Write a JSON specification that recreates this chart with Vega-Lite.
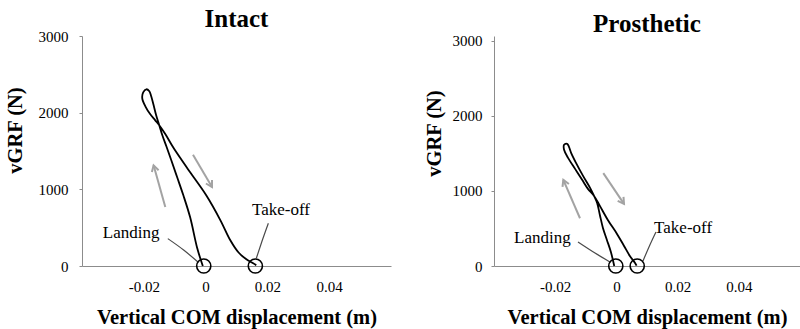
{
  "$schema": "https://vega.github.io/schema/vega-lite/v6.json",
  "autosize": {"type": "none"},
  "padding": {"left": 82, "top": 36, "right": 718, "bottom": 293},
  "spacing": 103,
  "bounds": "flush",
  "config": {
    "view": {"stroke": null},
    "font": "Times New Roman, Liberation Serif, serif",
    "title": {"font": "Times New Roman, Liberation Serif, serif", "fontSize": 25, "fontWeight": "bold", "color": "#000", "offset": -3, "anchor": "middle"},
    "axis": {
      "grid": false,
      "domainColor": "#8c8c8c",
      "domainWidth": 1,
      "tickColor": "#8c8c8c",
      "labelFont": "Times New Roman, Liberation Serif, serif",
      "labelFontSize": 15,
      "labelColor": "#000",
      "titleFont": "Times New Roman, Liberation Serif, serif",
      "titleFontSize": 20.5,
      "titleFontWeight": "bold",
      "titleColor": "#000"
    },
    "axisX": {"ticks": false, "tickSize": 0, "labelPadding": 13, "titlePadding": 13, "labelFlush": false},
    "axisY": {"tickSize": 3, "labelPadding": 11, "titlePadding": 13}
  },
  "datasets": {
    "loop": [
      {"panel": "Intact", "i": 0, "x": -0.0009, "y": 0},
      {"panel": "Intact", "i": 1, "x": -0.0027, "y": 231},
      {"panel": "Intact", "i": 2, "x": -0.0050, "y": 635},
      {"panel": "Intact", "i": 3, "x": -0.0072, "y": 922},
      {"panel": "Intact", "i": 4, "x": -0.0092, "y": 1157},
      {"panel": "Intact", "i": 5, "x": -0.0111, "y": 1379},
      {"panel": "Intact", "i": 6, "x": -0.0127, "y": 1561},
      {"panel": "Intact", "i": 7, "x": -0.0140, "y": 1705},
      {"panel": "Intact", "i": 8, "x": -0.0150, "y": 1836},
      {"panel": "Intact", "i": 9, "x": -0.0160, "y": 1966},
      {"panel": "Intact", "i": 10, "x": -0.0169, "y": 2110},
      {"panel": "Intact", "i": 11, "x": -0.0176, "y": 2213},
      {"panel": "Intact", "i": 12, "x": -0.0182, "y": 2279},
      {"panel": "Intact", "i": 13, "x": -0.0192, "y": 2305},
      {"panel": "Intact", "i": 14, "x": -0.0202, "y": 2265},
      {"panel": "Intact", "i": 15, "x": -0.0205, "y": 2187},
      {"panel": "Intact", "i": 16, "x": -0.0195, "y": 2083},
      {"panel": "Intact", "i": 17, "x": -0.0179, "y": 1979},
      {"panel": "Intact", "i": 18, "x": -0.0163, "y": 1900},
      {"panel": "Intact", "i": 19, "x": -0.0150, "y": 1836},
      {"panel": "Intact", "i": 20, "x": -0.0130, "y": 1718},
      {"panel": "Intact", "i": 21, "x": -0.0105, "y": 1548},
      {"panel": "Intact", "i": 22, "x": -0.0078, "y": 1385},
      {"panel": "Intact", "i": 23, "x": -0.0050, "y": 1222},
      {"panel": "Intact", "i": 24, "x": 0.0002, "y": 922},
      {"panel": "Intact", "i": 25, "x": 0.0048, "y": 596},
      {"panel": "Intact", "i": 26, "x": 0.0080, "y": 335},
      {"panel": "Intact", "i": 27, "x": 0.0106, "y": 179},
      {"panel": "Intact", "i": 28, "x": 0.0132, "y": 87},
      {"panel": "Intact", "i": 29, "x": 0.0154, "y": 35},
      {"panel": "Intact", "i": 30, "x": 0.0164, "y": 9},
      {"panel": "Prosthetic", "i": 0, "x": -0.0007, "y": 0},
      {"panel": "Prosthetic", "i": 1, "x": -0.0018, "y": 187},
      {"panel": "Prosthetic", "i": 2, "x": -0.0031, "y": 347},
      {"panel": "Prosthetic", "i": 3, "x": -0.0044, "y": 507},
      {"panel": "Prosthetic", "i": 4, "x": -0.0054, "y": 680},
      {"panel": "Prosthetic", "i": 5, "x": -0.0063, "y": 840},
      {"panel": "Prosthetic", "i": 6, "x": -0.0073, "y": 933},
      {"panel": "Prosthetic", "i": 7, "x": -0.0086, "y": 1040},
      {"panel": "Prosthetic", "i": 8, "x": -0.0109, "y": 1200},
      {"panel": "Prosthetic", "i": 9, "x": -0.0132, "y": 1373},
      {"panel": "Prosthetic", "i": 10, "x": -0.0148, "y": 1507},
      {"panel": "Prosthetic", "i": 11, "x": -0.0155, "y": 1587},
      {"panel": "Prosthetic", "i": 12, "x": -0.0161, "y": 1627},
      {"panel": "Prosthetic", "i": 13, "x": -0.0171, "y": 1613},
      {"panel": "Prosthetic", "i": 14, "x": -0.0171, "y": 1547},
      {"panel": "Prosthetic", "i": 15, "x": -0.0158, "y": 1440},
      {"panel": "Prosthetic", "i": 16, "x": -0.0135, "y": 1293},
      {"panel": "Prosthetic", "i": 17, "x": -0.0112, "y": 1147},
      {"panel": "Prosthetic", "i": 18, "x": -0.0093, "y": 1027},
      {"panel": "Prosthetic", "i": 19, "x": -0.0073, "y": 933},
      {"panel": "Prosthetic", "i": 20, "x": -0.0054, "y": 800},
      {"panel": "Prosthetic", "i": 21, "x": -0.0028, "y": 613},
      {"panel": "Prosthetic", "i": 22, "x": 0.0002, "y": 427},
      {"panel": "Prosthetic", "i": 23, "x": 0.0025, "y": 267},
      {"panel": "Prosthetic", "i": 24, "x": 0.0044, "y": 133},
      {"panel": "Prosthetic", "i": 25, "x": 0.0061, "y": 40},
      {"panel": "Prosthetic", "i": 26, "x": 0.0066, "y": 5}
    ],
    "events": [
      {"panel": "Intact", "event": "Landing", "x": -0.0006, "y": 0},
      {"panel": "Intact", "event": "Take-off", "x": 0.0161, "y": 0},
      {"panel": "Prosthetic", "event": "Landing", "x": -0.0002, "y": 0},
      {"panel": "Prosthetic", "event": "Take-off", "x": 0.0068, "y": 0}
    ],
    "arrows": [
      {"panel": "Intact", "seg": "up-shaft", "i": 0, "x": -0.01304, "y": 770},
      {"panel": "Intact", "seg": "up-shaft", "i": 1, "x": -0.01683, "y": 1313},
      {"panel": "Intact", "seg": "up-head", "i": 0, "x": -0.01738, "y": 1225},
      {"panel": "Intact", "seg": "up-head", "i": 1, "x": -0.01683, "y": 1313},
      {"panel": "Intact", "seg": "up-head", "i": 2, "x": -0.01521, "y": 1250},
      {"panel": "Intact", "seg": "down-shaft", "i": 0, "x": -0.00408, "y": 1450},
      {"panel": "Intact", "seg": "down-shaft", "i": 1, "x": 0.00207, "y": 1030},
      {"panel": "Intact", "seg": "down-head", "i": 0, "x": 0.00207, "y": 1122},
      {"panel": "Intact", "seg": "down-head", "i": 1, "x": 0.00207, "y": 1030},
      {"panel": "Intact", "seg": "down-head", "i": 2, "x": 0.0001, "y": 1076},
      {"panel": "Prosthetic", "seg": "up-shaft", "i": 0, "x": -0.0119, "y": 636},
      {"panel": "Prosthetic", "seg": "up-shaft", "i": 1, "x": -0.01735, "y": 1147},
      {"panel": "Prosthetic", "seg": "up-head", "i": 0, "x": -0.01761, "y": 1054},
      {"panel": "Prosthetic", "seg": "up-head", "i": 1, "x": -0.01735, "y": 1147},
      {"panel": "Prosthetic", "seg": "up-head", "i": 2, "x": -0.01552, "y": 1091},
      {"panel": "Prosthetic", "seg": "down-shaft", "i": 0, "x": -0.00428, "y": 1236},
      {"panel": "Prosthetic", "seg": "down-shaft", "i": 1, "x": 0.00248, "y": 827},
      {"panel": "Prosthetic", "seg": "down-head", "i": 0, "x": 0.00232, "y": 920},
      {"panel": "Prosthetic", "seg": "down-head", "i": 1, "x": 0.00248, "y": 827},
      {"panel": "Prosthetic", "seg": "down-head", "i": 2, "x": 0.00042, "y": 868}
    ],
    "leaders": [
      {"panel": "Intact", "seg": "Landing", "i": 0, "x": -0.01223, "y": 357},
      {"panel": "Intact", "seg": "Landing", "i": 1, "x": -0.0070, "y": 205},
      {"panel": "Intact", "seg": "Landing", "i": 2, "x": -0.00236, "y": 48},
      {"panel": "Intact", "seg": "Take-off", "i": 0, "x": 0.0203, "y": 557},
      {"panel": "Intact", "seg": "Take-off", "i": 1, "x": 0.01835, "y": 335},
      {"panel": "Intact", "seg": "Take-off", "i": 2, "x": 0.01641, "y": 100},
      {"panel": "Prosthetic", "seg": "Landing", "i": 0, "x": -0.01255, "y": 320},
      {"panel": "Prosthetic", "seg": "Landing", "i": 1, "x": -0.00699, "y": 173},
      {"panel": "Prosthetic", "seg": "Landing", "i": 2, "x": -0.00209, "y": 53},
      {"panel": "Prosthetic", "seg": "Take-off", "i": 0, "x": 0.01294, "y": 453},
      {"panel": "Prosthetic", "seg": "Take-off", "i": 1, "x": 0.01065, "y": 253},
      {"panel": "Prosthetic", "seg": "Take-off", "i": 2, "x": 0.00869, "y": 67}
    ],
    "labels": [
      {"panel": "Intact", "label": "Landing", "x": -0.0241, "y": 361},
      {"panel": "Intact", "label": "Take-off", "x": 0.0244, "y": 661},
      {"panel": "Prosthetic", "label": "Landing", "x": -0.0242, "y": 311},
      {"panel": "Prosthetic", "label": "Take-off", "x": 0.0218, "y": 436}
    ]
  },
  "hconcat": [
    {
      "width": 309,
      "height": 230,
      "title": {"text": "Intact"},
      "encoding": {
        "x": {
          "field": "x", "type": "quantitative",
          "scale": {"domain": [-0.04, 0.06], "nice": false, "zero": false},
          "axis": {
            "title": "Vertical COM displacement (m)",
            "values": [-0.02, 0, 0.02, 0.04],
            "labelExpr": "datum.value === 0 ? '0' : (datum.value < 0 ? '-' : '') + format(abs(datum.value), '.2f')"
          }
        },
        "y": {
          "field": "y", "type": "quantitative",
          "scale": {"domain": [0, 3000], "nice": false, "zero": false},
          "axis": {"title": "vGRF (N)", "values": [0, 1000, 2000, 3000], "format": "d", "titleY": 94}
        }
      },
      "layer": [
        {
          "data": {"name": "arrows"},
          "transform": [{"filter": "datum.panel === 'Intact'"}],
          "mark": {"type": "line", "color": "#a3a3a3", "strokeWidth": 2},
          "encoding": {"detail": {"field": "seg"}, "order": {"field": "i", "type": "quantitative"}}
        },
        {
          "data": {"name": "leaders"},
          "transform": [{"filter": "datum.panel === 'Intact'"}],
          "mark": {"type": "line", "color": "#4a4a4a", "strokeWidth": 1.2, "interpolate": "monotone"},
          "encoding": {"detail": {"field": "seg"}, "order": {"field": "i", "type": "quantitative"}}
        },
        {
          "data": {"name": "loop"},
          "transform": [{"filter": "datum.panel === 'Intact'"}],
          "mark": {"type": "line", "color": "#000", "strokeWidth": 1.8, "interpolate": "catmull-rom"},
          "encoding": {"order": {"field": "i", "type": "quantitative"}}
        },
        {
          "data": {"name": "events"},
          "transform": [{"filter": "datum.panel === 'Intact'"}],
          "mark": {"type": "point", "shape": "circle", "filled": false, "color": "#000", "strokeWidth": 1.6, "size": 200, "opacity": 1}
        },
        {
          "data": {"name": "labels"},
          "transform": [{"filter": "datum.panel === 'Intact'"}],
          "mark": {"type": "text", "font": "Times New Roman, Liberation Serif, serif", "fontSize": 17, "baseline": "alphabetic", "align": "center", "color": "#000"},
          "encoding": {"text": {"field": "label"}}
        }
      ]
    },
    {
      "width": 306,
      "height": 230,
      "title": {"text": "Prosthetic"},
      "encoding": {
        "x": {
          "field": "x", "type": "quantitative",
          "scale": {"domain": [-0.04, 0.06], "nice": false, "zero": false},
          "axis": {
            "title": "Vertical COM displacement (m)",
            "values": [-0.02, 0, 0.02, 0.04],
            "labelExpr": "datum.value === 0 ? '0' : (datum.value < 0 ? '-' : '') + format(abs(datum.value), '.2f')"
          }
        },
        "y": {
          "field": "y", "type": "quantitative",
          "scale": {"domain": [0, 3062], "nice": false, "zero": false},
          "axis": {"title": "vGRF (N)", "values": [0, 1000, 2000, 3000], "format": "d", "titleY": 97, "labelPadding": 9, "titlePadding": 8}
        }
      },
      "layer": [
        {
          "data": {"name": "arrows"},
          "transform": [{"filter": "datum.panel === 'Prosthetic'"}],
          "mark": {"type": "line", "color": "#a3a3a3", "strokeWidth": 2},
          "encoding": {"detail": {"field": "seg"}, "order": {"field": "i", "type": "quantitative"}}
        },
        {
          "data": {"name": "leaders"},
          "transform": [{"filter": "datum.panel === 'Prosthetic'"}],
          "mark": {"type": "line", "color": "#4a4a4a", "strokeWidth": 1.2, "interpolate": "monotone"},
          "encoding": {"detail": {"field": "seg"}, "order": {"field": "i", "type": "quantitative"}}
        },
        {
          "data": {"name": "loop"},
          "transform": [{"filter": "datum.panel === 'Prosthetic'"}],
          "mark": {"type": "line", "color": "#000", "strokeWidth": 1.8, "interpolate": "catmull-rom"},
          "encoding": {"order": {"field": "i", "type": "quantitative"}}
        },
        {
          "data": {"name": "events"},
          "transform": [{"filter": "datum.panel === 'Prosthetic'"}],
          "mark": {"type": "point", "shape": "circle", "filled": false, "color": "#000", "strokeWidth": 1.6, "size": 200, "opacity": 1}
        },
        {
          "data": {"name": "labels"},
          "transform": [{"filter": "datum.panel === 'Prosthetic'"}],
          "mark": {"type": "text", "font": "Times New Roman, Liberation Serif, serif", "fontSize": 17, "baseline": "alphabetic", "align": "center", "color": "#000"},
          "encoding": {"text": {"field": "label"}}
        }
      ]
    }
  ]
}
